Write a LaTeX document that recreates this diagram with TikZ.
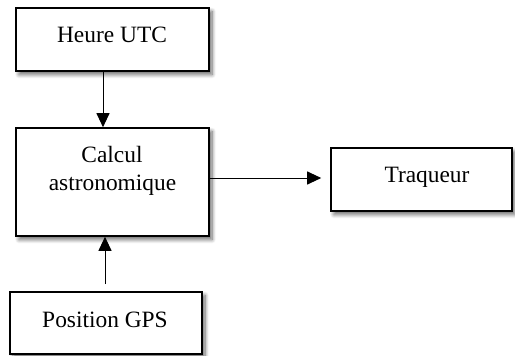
\documentclass[tikz,border=0pt]{standalone}
\usepackage{fontspec}
\setmainfont{Liberation Serif}
\usetikzlibrary{arrows.meta,shadows.blur}
\begin{document}
\begin{tikzpicture}[x=1pt,y=-1pt,
  box/.style={draw, line width=1.6pt, fill=white, inner sep=0pt,
    blur shadow={shadow xshift=3pt, shadow yshift=-3.5pt, shadow blur radius=4pt, shadow blur steps=8, shadow opacity=60}},
  lbl/.style={inner sep=0pt, font=\fontsize{23.4}{28}\selectfont},
  arr/.style={line width=1pt, -{Triangle[length=14pt,width=13pt]}}]
\useasboundingbox (0,0) rectangle (515,356);
\node[box, minimum width=193pt, minimum height=63pt] (utc) at (112.5,39.5) {};
\node[box, minimum width=193pt, minimum height=108pt] (calc) at (112.5,182) {};
\node[box, minimum width=181pt, minimum height=63pt] (traq) at (421.5,179.5) {};
\node[box, minimum width=192pt, minimum height=62pt] (gps) at (106,323) {};
\node[lbl, anchor=base] (tutc) at (112,42) {Heure UTC};
\node[lbl, anchor=base] (tcalc1) at (112,162) {Calcul};
\node[lbl, anchor=base] (tcalc2) at (112.5,190) {astronomique};
\node[lbl, anchor=base] (ttraq) at (427,182) {Traqueur};
\node[lbl, anchor=base] (tgps) at (105,327) {Position GPS};
\draw[arr] ([xshift=-9.5pt]utc.south) -- ([xshift=-9.5pt]utc.south |- calc.north);
\draw[arr, shorten >=9pt] ([yshift=4pt]calc.east) -- ([yshift=4pt]calc.east -| traq.west);
\draw[arr, shorten <=7pt] ([xshift=-1pt]gps.north) -- ([xshift=-1pt]gps.north |- calc.south);
\end{tikzpicture}
\end{document}
